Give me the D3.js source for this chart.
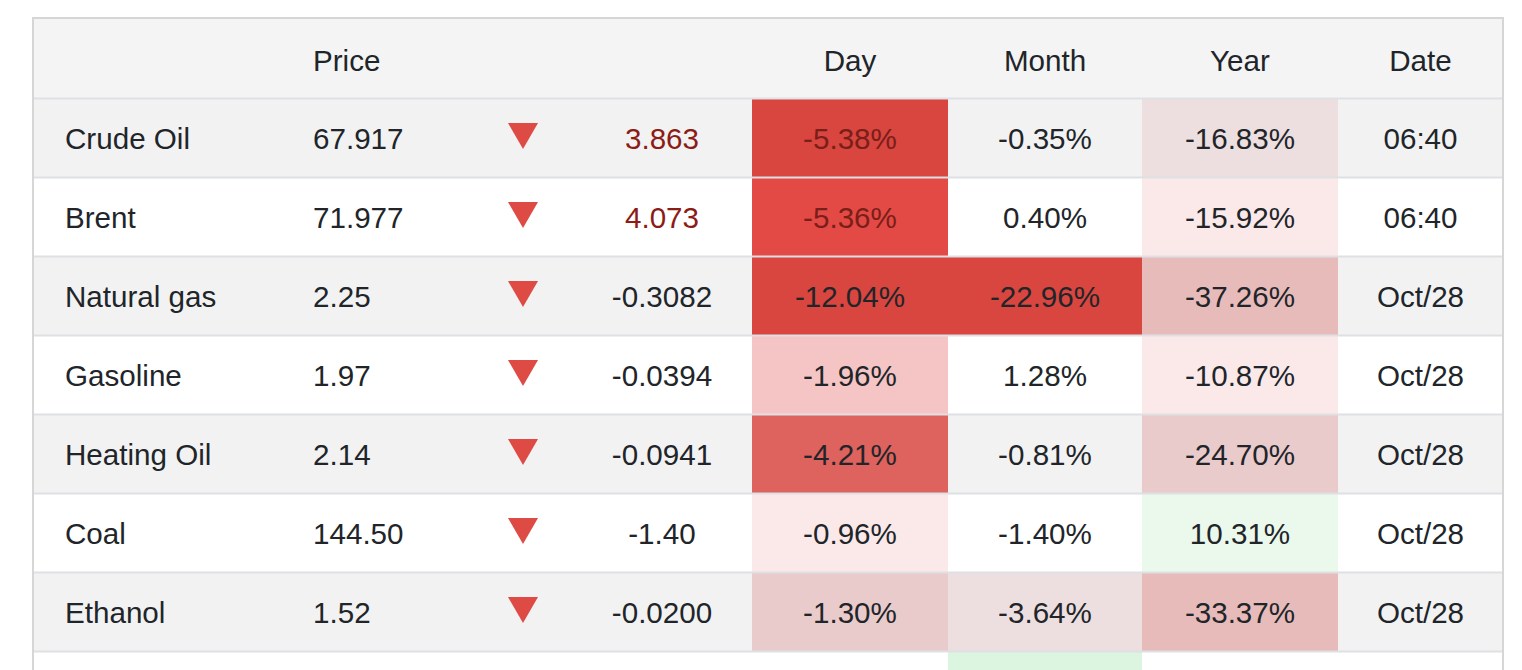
<!DOCTYPE html>
<html>
<head>
<meta charset="utf-8">
<script src="https://cdn.jsdelivr.net/npm/d3@7/dist/d3.min.js"></script>
<style>
  html, body { margin: 0; padding: 0; background: #ffffff; }
  svg { display: block; }
  text { font-family: "Liberation Sans", Arial, Helvetica, sans-serif; font-size: 29.6px; fill: #212529; }
</style>
</head>
<body>
<svg id="chart" width="1522" height="670"></svg>
<script>
// ---------- data ----------
const headers = ["", "Price", "", "", "Day", "Month", "Year", "Date"];
const names   = ["Crude Oil", "Brent", "Natural gas", "Gasoline", "Heating Oil", "Coal", "Ethanol", ""];
const prices  = ["67.917", "71.977", "2.25", "1.97", "2.14", "144.50", "1.52", ""];
const changes = ["3.863", "4.073", "-0.3082", "-0.0394", "-0.0941", "-1.40", "-0.0200", ""];
const dayPct   = ["-5.38%", "-5.36%", "-12.04%", "-1.96%", "-4.21%", "-0.96%", "-1.30%", ""];
const monthPct = ["-0.35%", "0.40%", "-22.96%", "1.28%", "-0.81%", "-1.40%", "-3.64%", ""];
const yearPct  = ["-16.83%", "-15.92%", "-37.26%", "-10.87%", "-24.70%", "10.31%", "-33.37%", ""];
const dates    = ["06:40", "06:40", "Oct/28", "Oct/28", "Oct/28", "Oct/28", "Oct/28", ""];
const direction = ["down", "down", "down", "down", "down", "down", "down", null];
// heat level of each cell (0 = neutral)
const dayHeat   = [-6, -7, -6, -4, -5, -1, -2, 0];
const monthHeat = [0, 0, -6, 0, 0, 0, -1.5, 2];
const yearHeat  = [-1.5, -1, -3, -1, -2, 1, -3, 0];
// rows whose change is flagged (stale / highlighted)
const flagged = [true, true, false, false, false, false, false, false];

// ---------- layout ----------
const svg = d3.select("#chart");
const tableLeft = 33, tableRight = 1503, tableTop = 18;
const headerH = 80, rowH = 79;

const y = d3.scaleBand()
  .domain(d3.range(names.length))
  .range([tableTop + headerH, tableTop + headerH + rowH * names.length])
  .paddingInner(0).paddingOuter(0);

// column geometry
const col = {
  name:   { x: 65 },
  price:  { x: 313 },
  arrow:  { x: 523 },
  change: { x: 662 },
  day:    { x0: 752,  x1: 948 },
  month:  { x0: 948,  x1: 1142 },
  year:   { x0: 1142, x1: 1338 },
  date:   { x0: 1338, x1: 1503 }
};

const heatColor = d3.scaleOrdinal()
  .domain([-7, -6, -5, -4, -3, -2, -1.5, -1, 0, 1, 2])
  .range(["#e44a45", "#d9453f", "#de625e", "#f4c5c4", "#e8bbbb", "#eacbcb",
          "#eddfdf", "#fbe9e9", "none", "#ebf8ec", "#dcf5e0"]);

const textDark = "#212529";
const flagColor = "#8b1c16";

// header background
svg.append("rect")
  .attr("x", tableLeft).attr("y", tableTop)
  .attr("width", tableRight - tableLeft).attr("height", headerH)
  .attr("fill", "#f4f4f4");

// row backgrounds (striped)
svg.selectAll("rect.rowbg")
  .data(d3.range(names.length))
  .join("rect")
  .attr("class", "rowbg")
  .attr("x", tableLeft).attr("y", i => y(i))
  .attr("width", tableRight - tableLeft).attr("height", y.bandwidth())
  .attr("fill", i => i % 2 === 0 ? "#f2f2f2" : "#ffffff");

// heat cells
function heatCells(levels, c, cls) {
  svg.selectAll("rect." + cls)
    .data(levels.map((v, i) => ({ v, i })).filter(d => d.v !== 0))
    .join("rect")
    .attr("class", cls)
    .attr("x", c.x0).attr("y", d => y(d.i))
    .attr("width", c.x1 - c.x0).attr("height", y.bandwidth())
    .attr("fill", d => heatColor(d.v));
}
heatCells(dayHeat, col.day, "hday");
heatCells(monthHeat, col.month, "hmonth");
heatCells(yearHeat, col.year, "hyear");

// row separators
svg.selectAll("line.sep")
  .data(d3.range(names.length))
  .join("line")
  .attr("class", "sep")
  .attr("x1", tableLeft).attr("x2", tableRight)
  .attr("y1", i => y(i) + 0.5).attr("y2", i => y(i) + 0.5)
  .attr("stroke", "#dee0e4").attr("stroke-width", 2);

// outer border
svg.append("path")
  .attr("d", `M${tableLeft},700 V${tableTop} H${tableRight} V700`)
  .attr("fill", "none").attr("stroke", "#d6d6d6").attr("stroke-width", 2);

// header text
const headerX = [col.name.x, col.price.x, col.arrow.x, col.change.x,
  (col.day.x0 + col.day.x1) / 2, (col.month.x0 + col.month.x1) / 2,
  (col.year.x0 + col.year.x1) / 2, (col.date.x0 + col.date.x1) / 2];
const headerAnchor = ["start", "start", "middle", "middle", "middle", "middle", "middle", "middle"];
svg.selectAll("text.hdr")
  .data(headers)
  .join("text")
  .attr("class", "hdr")
  .attr("x", (d, i) => headerX[i])
  .attr("y", tableTop + headerH / 2 + 13)
  .attr("text-anchor", (d, i) => headerAnchor[i])
  .text(d => d);

const baseline = i => y(i) + y.bandwidth() / 2 + 11;

function textCol(arr, x, anchor, cls, colorFn) {
  svg.selectAll("text." + cls)
    .data(arr)
    .join("text")
    .attr("class", cls)
    .attr("x", x)
    .attr("y", (d, i) => baseline(i))
    .attr("text-anchor", anchor)
    .style("fill", (d, i) => colorFn ? colorFn(i) : textDark)
    .text(d => d);
}
textCol(names, col.name.x, "start", "tname");
textCol(prices, col.price.x, "start", "tprice");
textCol(changes, col.change.x, "middle", "tchg", i => flagged[i] ? flagColor : textDark);
textCol(dayPct, (col.day.x0 + col.day.x1) / 2, "middle", "tday", i => flagged[i] ? "#7a1e19" : textDark);
textCol(monthPct, (col.month.x0 + col.month.x1) / 2, "middle", "tmonth");
textCol(yearPct, (col.year.x0 + col.year.x1) / 2, "middle", "tyear");
textCol(dates, (col.date.x0 + col.date.x1) / 2, "middle", "tdate");

// direction arrows
svg.selectAll("path.arrow")
  .data(direction.map((d, i) => ({ d, i })).filter(o => o.d))
  .join("path")
  .attr("class", "arrow")
  .attr("transform", o => `translate(${col.arrow.x},${y(o.i) + 25})`)
  .attr("d", o => o.d === "down" ? "M-15,0 L15,0 L0,26 Z" : "M-15,26 L15,26 L0,0 Z")
  .attr("fill", o => o.d === "down" ? "#de4a44" : "#2e9e4f");
</script>
</body>
</html>
